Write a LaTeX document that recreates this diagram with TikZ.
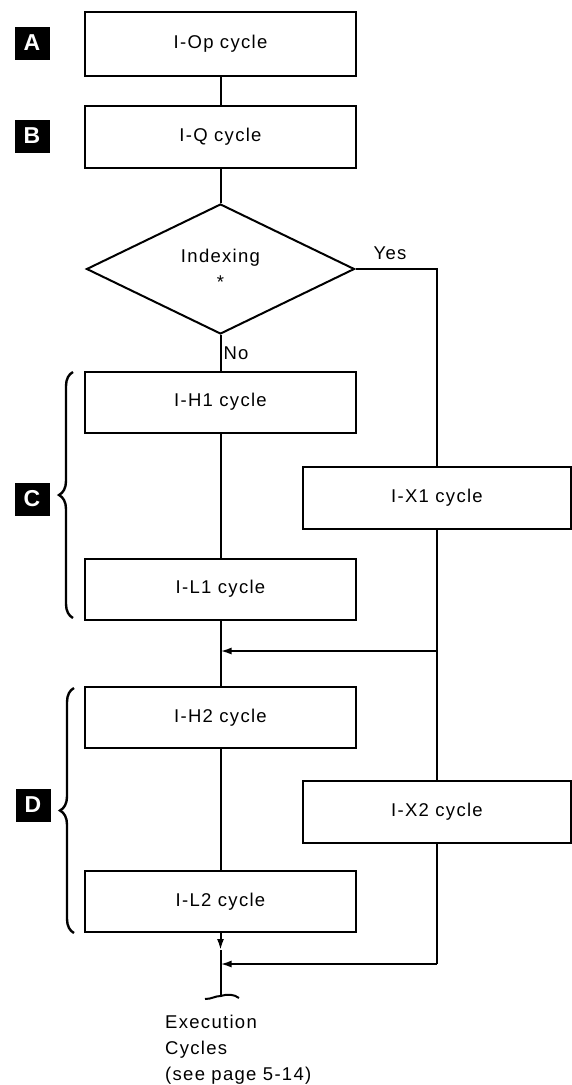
\documentclass[tikz,border=0pt]{standalone}
\usepackage{fontspec}
\setmainfont{Liberation Sans}
\newfontfamily\chartfont{Liberation Sans}[LetterSpace=7]
\usetikzlibrary{shapes.geometric,arrows.meta,decorations.pathreplacing}

\begin{document}
\begin{tikzpicture}[x=1pt,y=-1pt,
  every node/.style={font=\chartfont\fontsize{18.5}{22}\selectfont},
  wire/.style={line width=2pt},
  flow/.style={wire, -{Latex[length=11pt,width=7pt]}},
  cyclebox/.style={draw, line width=2pt, minimum width=271pt, minimum height=61pt, inner sep=0pt},
  sidebox/.style={cyclebox, minimum width=268pt, minimum height=62pt},
  decision/.style={draw, diamond, line width=2pt, minimum width=268pt, minimum height=130pt, inner sep=0pt, align=center},
  tag/.style={fill=black, text=white, minimum width=35pt, minimum height=33pt, inner sep=0pt,
    font=\fontsize{23}{23}\selectfont\bfseries},
  groupbrace/.style={line width=2.4pt, decorate, decoration={brace, amplitude=14pt}},
  note/.style={anchor=base west, inner sep=0pt}
]
\useasboundingbox (0,0) rectangle (572,1085);

% main column of instruction cycles
\node[cyclebox, minimum height=64pt] (op) at (220.5,44) {I-Op cycle};
\node[cyclebox, minimum height=62pt] (q)  at (220.5,136.5) {I-Q cycle};
\node[decision] (idx) at (220.5,269) {Indexing\\[4pt]*};
\node[cyclebox] (h1) at (220.5,402) {I-H1 cycle};
\node[cyclebox] (l1) at (220.5,589) {I-L1 cycle};
\node[cyclebox] (h2) at (220.5,717.5) {I-H2 cycle};
\node[cyclebox] (l2) at (220.5,901.5) {I-L2 cycle};

% indexed path
\node[sidebox] (x1) at (437,498) {I-X1 cycle};
\node[sidebox] (x2) at (437,812) {I-X2 cycle};

% group tags
\node[tag] (ta) at (32,43) {A};
\node[tag] (tb) at (32,136) {B};
\node[tag] (tc) at (32,499) {C};
\node[tag] (td) at (33,805) {D};

% routing points
\coordinate (yesturn) at (437,269);
\coordinate (join1) at (437,651);
\coordinate (join1in) at (220.5,651);
\coordinate (join2) at (437,964);
\coordinate (join2in) at (220.5,964);
\coordinate (midarrow) at (220.5,950);
\coordinate (tail) at (220.5,996);

% connectors
\draw[wire] (op) -- (q);
\draw[wire] (q) -- (idx);
\draw[wire] (idx.south) -- node[right, inner sep=2pt, pos=0.5] {No} (h1.north);
\draw[wire] (idx.east) -- (yesturn) -- (x1.north);
\node (yes) at (390,253) {Yes};
\draw[wire] (h1) -- (l1);
\draw[wire] (l1) -- (h2);
\draw[wire] (x1.south) -- (join1) -- (x2.north);
\draw[flow] (join1) -- (join1in);
\draw[wire] (h2) -- (l2);
\draw[flow] (l2.south) -- (midarrow);
\draw[wire] (midarrow) -- (tail);
\draw[wire] (x2.south) -- (join2);
\draw[flow] (join2) -- (join2in);

% break symbol at the open end
\draw[wire] (205,999) .. controls (212,999) and (215,996) .. (tail)
  .. controls (227,994) and (234,994) .. (239,998);

% braces grouping cycles
\draw[groupbrace] (73,618) -- (73,372);
\draw[groupbrace] (74,933) -- (74,688);

% continuation note
\node[note] (n1) at (165,1028) {Execution};
\node[note] (n2) at (165,1054) {Cycles};
\node[note] (n3) at (165,1080) {(see page 5-14)};
\end{tikzpicture}
\end{document}
